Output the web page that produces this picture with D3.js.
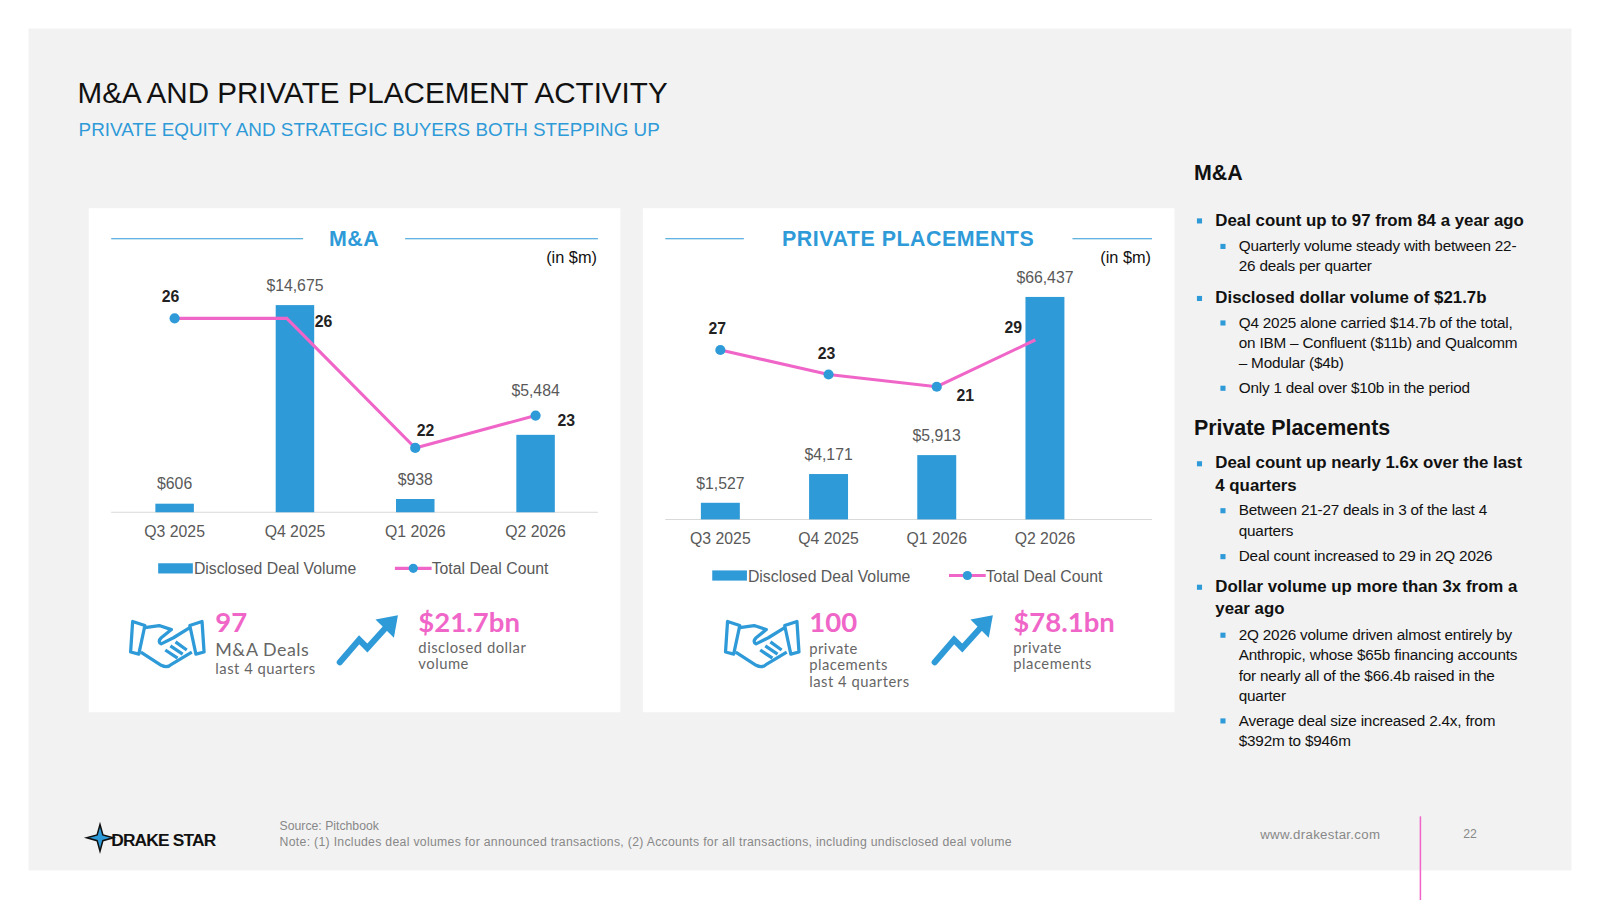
<!DOCTYPE html>
<html><head><meta charset="utf-8">
<script src="https://cdn.jsdelivr.net/npm/d3@7"></script>
<style>body{margin:0;background:#fff;font-family:"Liberation Sans",Arial,sans-serif}</style>
</head><body><div id="chart"></div>
<script>
// Data
const quarters = ['Q3 2025', 'Q4 2025', 'Q1 2026', 'Q2 2026'];
const maVolume = [606, 14675, 938, 5484];
const maCount = [26, 26, 22, 23];
const ppVolume = [1527, 4171, 5913, 66437];
const ppCount = [27, 23, 21, 29];

const blue = '#2f9ad8', pink = '#f066c8', grey = '#595959';
const W = 1600, H = 900;
const root = d3.select('#chart').append('svg').attr('width', W).attr('height', H)
    .style('font-family', '"Liberation Sans", Arial, sans-serif');
// layout measured on a 1568-wide grid, scaled up to the page
const svg = root.append('g').attr('transform', `scale(${1600 / 1568})`);

svg.append('rect').attr('x', 28).attr('y', 28).attr('width', 1512).attr('height', 825).attr('fill', '#f2f2f2');
svg.append('line').attr('x1', 1392).attr('x2', 1392).attr('y1', 800).attr('y2', 882).attr('stroke', pink).attr('stroke-width', 1.5);

svg.append('text').attr('x', 76).attr('y', 101).text('M&A AND PRIVATE PLACEMENT ACTIVITY')
    .attr('font-size', 29).attr('fill', '#111');
svg.append('text').attr('x', 77).attr('y', 133).text('PRIVATE EQUITY AND STRATEGIC BUYERS BOTH STEPPING UP')
    .attr('font-size', 18.5).attr('fill', blue);

function panel(x0, title, vol, cnt, opt) {
    const g = svg.append('g');
    g.append('rect').attr('x', x0).attr('y', 204).attr('width', 521).attr('height', 494).attr('fill', '#fff');
    const tw = opt.titleW;
    g.append('line').attr('x1', x0 + 22).attr('x2', x0 + 260 - tw / 2 - 20).attr('y1', 234).attr('y2', 234).attr('stroke', blue);
    g.append('line').attr('x1', x0 + 260 + tw / 2 + 20).attr('x2', x0 + 499).attr('y1', 234).attr('y2', 234).attr('stroke', blue);
    g.append('text').attr('x', x0 + 260).attr('y', 241).attr('text-anchor', 'middle').text(title)
        .attr('font-size', 21).attr('font-weight', 'bold').attr('fill', blue).attr('letter-spacing', 0.5);
    g.append('text').attr('x', x0 + 498).attr('y', 258).attr('text-anchor', 'end').text('(in $m)').attr('font-size', 16).attr('fill', '#111');

    const x = d3.scaleBand().domain(quarters).range([x0 + 24, x0 + opt.xEnd]).paddingInner(opt.pi).paddingOuter(opt.po);
    // piecewise scale: the tallest bar is drawn truncated where the reference does so
    const y = d3.scaleLinear().domain(opt.vDom).range(opt.vRange);
    const yc = d3.scaleLinear().domain(opt.cDom).range(opt.cRange);
    const base = opt.vRange[0];

    g.append('line').attr('x1', x0 + 22).attr('x2', x0 + 499).attr('y1', base).attr('y2', base).attr('stroke', '#d9d9d9');
    g.selectAll('.bar').data(vol).enter().append('rect')
        .attr('x', (d, i) => x(quarters[i])).attr('width', x.bandwidth())
        .attr('y', d => y(d)).attr('height', d => base - y(d)).attr('fill', blue);
    g.selectAll('.vl').data(vol).enter().append('text')
        .attr('x', (d, i) => x(quarters[i]) + x.bandwidth() / 2)
        .attr('y', (d, i) => {
            const gap = y(d) - yc(cnt[i]);
            return (gap > 0 && gap < 30 ? yc(cnt[i]) - 5 : y(d)) - 14;
        })
        .attr('text-anchor', 'middle').attr('font-size', 15.5).attr('fill', grey)
        .text(d => '$' + d3.format(',')(d));
    const px = (d, i) => x(quarters[i]) + x.bandwidth() / 2 + (opt.dx[i] || 0);
    g.append('path').datum(cnt)
        .attr('d', d3.line().x(px).y(d => yc(d)))
        .attr('fill', 'none').attr('stroke', pink).attr('stroke-width', 3);
    g.selectAll('.dot').data(cnt).enter().append('circle')
        .attr('cx', px).attr('cy', d => yc(d)).attr('fill', blue)
        .attr('r', (d, i) => opt.hideDot.includes(i) ? 0 : 5);
    g.selectAll('.cl').data(cnt).enter().append('text')
        .attr('x', (d, i) => px(d, i) + opt.lab[i][0]).attr('y', (d, i) => yc(d) + opt.lab[i][1])
        .attr('text-anchor', 'middle').attr('font-size', 15.5).attr('font-weight', 'bold').attr('fill', '#222')
        .text(d => d);
    const xa = g.append('g').attr('transform', `translate(0,${base})`)
        .call(d3.axisBottom(x).tickSize(0).tickPadding(13));
    xa.select('.domain').remove();
    xa.selectAll('text').attr('font-size', 15.5).attr('fill', grey).style('font-family', '"Liberation Sans", Arial');

    // legend
    const ly = base + 55;
    g.append('rect').attr('x', x0 + opt.legX).attr('y', ly - 5).attr('width', 34).attr('height', 10).attr('fill', blue);
    g.append('text').attr('x', x0 + opt.legX + 35).attr('y', ly + 6).text('Disclosed Deal Volume').attr('font-size', 15.5).attr('fill', grey);
    g.append('line').attr('x1', x0 + opt.legX + 232).attr('x2', x0 + opt.legX + 268).attr('y1', ly).attr('y2', ly).attr('stroke', pink).attr('stroke-width', 3);
    g.append('circle').attr('cx', x0 + opt.legX + 250).attr('cy', ly).attr('r', 4.5).attr('fill', blue);
    g.append('text').attr('x', x0 + opt.legX + 268).attr('y', ly + 6).text('Total Deal Count').attr('font-size', 15.5).attr('fill', grey);

    // KPIs
    handshake(g, x0 + opt.hx, 607);
    arrow(g, x0 + opt.ax, 603);
    const kf = 'Lato, "Open Sans", sans-serif';
    g.append('text').attr('x', x0 + opt.k1x).attr('y', 619).text(opt.k1).attr('font-size', 27).attr('font-weight', 'bold').attr('fill', pink).style('font-family', kf);
    opt.k1s.forEach((t, i) => g.append('text').attr('x', x0 + opt.k1x).attr('y', (opt.k1big ? 643 : 641) + i * 16 + (opt.k1big && i > 0 ? 2 : 0))
        .text(t).attr('font-size', opt.k1big && i == 0 ? 17.5 : 14.5).attr('fill', '#666').attr('letter-spacing', 0.5).style('font-family', kf));
    g.append('text').attr('x', x0 + opt.k2x).attr('y', 619).text(opt.k2).attr('font-size', 27).attr('font-weight', 'bold').attr('fill', pink).style('font-family', kf);
    opt.k2s.forEach((t, i) => g.append('text').attr('x', x0 + opt.k2x).attr('y', 640 + i * 16)
        .text(t).attr('font-size', 14.5).attr('fill', '#666').attr('letter-spacing', 0.5).style('font-family', kf));
}

function handshake(g, x, y) {
    const h = g.append('g').attr('transform', `translate(${x},${y})`).attr('fill', 'none').attr('stroke', blue).attr('stroke-width', 3.2).attr('stroke-linejoin', 'round');
    h.append('path').attr('d', 'M2,2 L14,6 L8,34 L0,32 Z');
    h.append('path').attr('d', 'M70,2 L58,6 L64,34 L72,32 Z');
    h.append('path').attr('d', 'M14,8 L28,6 L40,10 L30,18 Q26,22 30,24 L42,18 L58,8');
    h.append('path').attr('d', 'M10,32 L30,45 Q36,48 40,44 L60,32');
    h.append('path').attr('d', 'M34,30 L46,38 M39,26 L51,34 M44,22 L55,30');
}
function arrow(g, x, y) {
    const a = g.append('g').attr('transform', `translate(${x},${y})`);
    a.append('path').attr('d', 'M3,46 L22,24 L30,32 L50,10').attr('fill', 'none').attr('stroke', blue).attr('stroke-width', 6).attr('stroke-linecap', 'round');
    a.append('path').attr('d', 'M38,4 L60,0 L56,22 Z').attr('fill', blue);
}

panel(87, 'M&A', maVolume, maCount, {
    titleW: 60, vDom: [0, 14675], vRange: [502, 299], xEnd: 498, pi: 0.68, po: 0.35,
    cDom: [22, 26], cRange: [439, 312], dx: [0, -8, 0, 0], hideDot: [1],
    lab: [[-4, -16], [36, 8], [10, -12], [30, 10]], legX: 68,
    hx: 41, ax: 243,
    k1: '97', k1s: ['M&A Deals', 'last 4 quarters'], k1big: true, k1x: 124,
    k2: '$21.7bn', k2s: ['disclosed dollar', 'volume'], k2x: 323
});
panel(630, 'PRIVATE PLACEMENTS', ppVolume, ppCount, {
    titleW: 282, vDom: [0, 5913, 66437], vRange: [509, 446, 291], xEnd: 446, pi: 0.64, po: 0.31,
    cDom: [21, 29], cRange: [379, 331], dx: [0, 0, 0, -5], hideDot: [],
    lab: [[-3, -16], [-2, -15], [28, 14], [-26, -5]], legX: 68,
    hx: 81, ax: 283,
    k1: '100', k1s: ['private', 'placements', 'last 4 quarters'], k1x: 163,
    k2: '$78.1bn', k2s: ['private', 'placements'], k2x: 363
});

// right text column
const rx = 1170;
svg.append('text').attr('x', rx).attr('y', 176).text('M&A').attr('font-size', 21).attr('font-weight', 'bold').attr('fill', '#111');
svg.append('text').attr('x', rx).attr('y', 426).text('Private Placements').attr('font-size', 21).attr('font-weight', 'bold').attr('fill', '#111');
const bullets = [
    [1, 221, ['Deal count up to 97 from 84 a year ago']],
    [2, 246, ['Quarterly volume steady with between 22-', '26 deals per quarter']],
    [1, 297, ['Disclosed dollar volume of $21.7b']],
    [2, 321, ['Q4 2025 alone carried $14.7b of the total,', 'on IBM – Confluent ($11b) and Qualcomm', '– Modular ($4b)']],
    [2, 385, ['Only 1 deal over $10b in the period']],
    [1, 459, ['Deal count up nearly 1.6x over the last', '4 quarters']],
    [2, 505, ['Between 21-27 deals in 3 of the last 4', 'quarters']],
    [2, 550, ['Deal count increased to 29 in 2Q 2026']],
    [1, 580, ['Dollar volume up more than 3x from a', 'year ago']],
    [2, 627, ['2Q 2026 volume driven almost entirely by', 'Anthropic, whose $65b financing accounts', 'for nearly all of the $66.4b raised in the', 'quarter']],
    [2, 711, ['Average deal size increased 2.4x, from', '$392m to $946m']]
];
bullets.forEach(([lvl, y, lines]) => {
    const bx = lvl == 1 ? rx + 3 : rx + 26;
    svg.append('rect').attr('x', bx).attr('y', y - 7).attr('width', 5).attr('height', 5).attr('fill', blue);
    lines.forEach((t, i) => svg.append('text').attr('x', bx + 18).attr('y', y + i * (lvl == 1 ? 22 : 20))
        .text(t).attr('font-size', lvl == 1 ? 16.5 : 15).attr('font-weight', lvl == 1 ? 'bold' : 'normal')
        .attr('fill', '#111').attr('letter-spacing', lvl == 1 ? 0 : -0.2));
});

// footer
svg.append('text').attr('x', 274).attr('y', 813).text('Source: Pitchbook').attr('font-size', 12).attr('fill', '#888');
svg.append('text').attr('x', 274).attr('y', 829).text('Note: (1) Includes deal volumes for announced transactions, (2) Accounts for all transactions, including undisclosed deal volume').attr('font-size', 12).attr('fill', '#888').attr('letter-spacing', 0.3);
svg.append('text').attr('x', 1235).attr('y', 822).text('www.drakestar.com').attr('font-size', 13).attr('fill', '#888').attr('letter-spacing', 0.3);
svg.append('text').attr('x', 1434).attr('y', 821).text('22').attr('font-size', 12).attr('fill', '#888');
const star = d3.range(8).map(i => { const r = i % 2 ? 4 : 13, a = i * Math.PI / 4 - Math.PI / 2; return [98 + r * Math.cos(a), 821 + r * Math.sin(a)]; });
svg.append('path').attr('d', d3.line()(star) + 'Z').attr('fill', blue).attr('stroke', '#111').attr('stroke-width', 1.5);
svg.append('text').attr('x', 109).attr('y', 829).text('DRAKE STAR').attr('font-size', 17).attr('font-weight', 'bold').attr('fill', '#111').attr('letter-spacing', -0.8);
</script></body></html>
